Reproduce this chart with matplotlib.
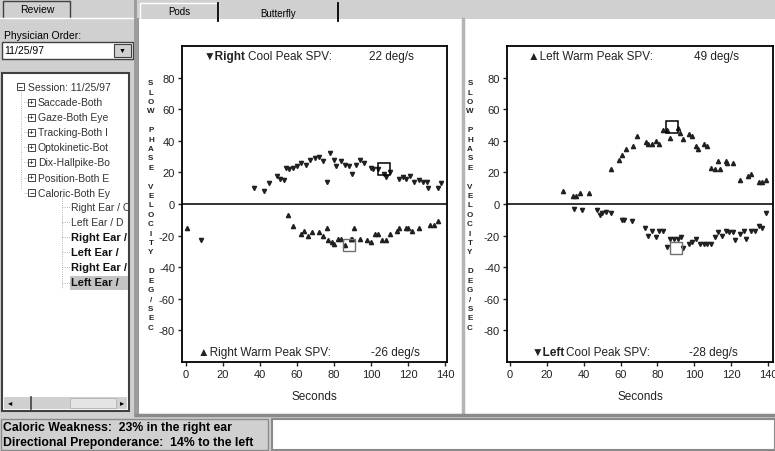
import matplotlib
matplotlib.use("Agg")
import matplotlib.pyplot as plt
from matplotlib.patches import Rectangle

plt.rcParams['font.family'] = ['Liberation Sans', 'DejaVu Sans']
plt.rcParams['axes.unicode_minus'] = False

W, H = 775, 452

# ---- data ----
# Right ear panel (left chart)
right_cool_t = [8, 37, 42, 45, 49, 51, 53, 54, 56, 58, 60, 62, 65, 67, 70, 72, 74, 76, 78, 80, 81, 84, 86,
                88, 90, 92, 94, 96, 100, 101, 104, 107, 108, 110, 115, 117, 119, 121, 123, 126, 128, 130,
                131, 136, 138]
right_cool_v = [-23, 10, 8, 13, 18, 16, 15, 23, 22, 23, 24, 26, 25, 28, 29, 30, 27, 14, 32, 28, 24, 27, 25,
                24, 19, 25, 28, 26, 23, 22, 22, 19, 17, 20, 16, 17, 16, 18, 14, 15, 14, 14,
                10, 10, 13]
right_warm_t = [0.5, 55, 58, 62, 64, 66, 68, 72, 74, 76, 77, 79, 80, 82, 84, 86, 89, 90, 91, 94, 98, 100,
                102, 104, 106, 108, 110, 114, 115, 119, 120, 122, 126, 132, 134, 136]
right_warm_v = [-15, -7, -14, -19, -17, -20, -18, -18, -20, -15, -23, -24, -25, -22, -22, -26, -22, -22, -15,
                -22, -23, -24, -19, -19, -23, -23, -19, -17, -15, -15, -15, -17, -15, -13, -13, -11]
right_peaks_t = [107, 88]
right_peaks_v = [22, -26]

# Left ear panel (right chart)
left_warm_t = [29, 34, 36, 38, 43, 55, 59, 61, 63, 67, 69, 74, 75, 77, 79, 81, 83, 85, 87, 91, 92, 94, 97,
               99, 101, 102, 105, 107, 109, 111, 113, 114, 117, 118, 121, 125, 129, 131, 135, 137, 139]
left_warm_v = [8, 5, 5, 7, 7, 22, 28, 31, 35, 37, 43, 39, 38, 38, 40, 38, 47, 47, 42, 48, 45, 41, 44,
               43, 37, 35, 38, 37, 23, 22, 27, 22, 27, 26, 26, 15, 18, 19, 14, 14, 15]
left_cool_t = [35, 39, 47, 49, 50, 52, 55, 61, 62, 66, 73, 75, 77, 79, 81, 83, 85, 87, 89, 91, 93, 94, 97,
               99, 101, 103, 105, 107, 109, 111, 113, 115, 117, 119, 121, 122, 125, 127, 128, 131, 133, 135,
               137, 139]
left_cool_v = [-3, -4, -4, -7, -6, -5, -6, -10, -10, -11, -15, -20, -17, -21, -17, -17, -27, -22, -22, -22,
               -21, -28, -25, -24, -22, -25, -25, -25, -25, -21, -18, -20, -17, -18, -18, -23, -19, -17,
               -22, -17, -17, -14, -15, -6]
left_peaks_t = [88, 90]
left_peaks_v = [49, -28]

y_ticks = [-80, -60, -40, -20, 0, 20, 40, 60, 80]
x_ticks = [0, 20, 40, 60, 80, 100, 120, 140]
ylabel_text = "SLOW PHASE VELOCITY DEG/SEC"

tree_items = ["Saccade-Both", "Gaze-Both Eye", "Tracking-Both I", "Optokinetic-Bot",
              "Dix-Hallpike-Bo", "Position-Both E", "Caloric-Both Ey"]
sub_items = ["Right Ear / C", "Left Ear / D", "Right Ear /", "Left Ear /", "Right Ear /", "Left Ear /"]
sub_bold = [False, False, True, True, True, True]

GRAY = '#d0d0d0'
DARK = '#404040'


def box(x0, y0, x1, y1):
    return [x0 / W, 1 - y1 / H, (x1 - x0) / W, (y1 - y0) / H]


fig = plt.figure(figsize=(W / 100, H / 100), dpi=100, facecolor=GRAY)

# ---- window chrome in pixel coordinates ----
bg = fig.add_axes([0, 0, 1, 1], zorder=0)
bg.set_xlim(0, W)
bg.set_ylim(H, 0)
bg.axis('off')

def rect(x0, y0, x1, y1, fc, ec='none', lw=1.0):
    bg.add_patch(Rectangle((x0, y0), x1 - x0, y1 - y0, facecolor=fc, edgecolor=ec, lw=lw))

# left pane
bg.plot([3, 3, 70, 70], [19, 2, 2, 19], color=DARK, lw=1)
bg.text(37, 10, "Review", ha='center', va='center', fontsize=7.5)
bg.plot([0, 135], [19, 19], color='white', lw=1)
bg.text(4, 36, "Physician Order:", ha='left', va='center', fontsize=7.5)
rect(2, 43, 133, 60, 'white', DARK)
bg.text(4, 51.5, "11/25/97", ha='left', va='center', fontsize=7.5)
rect(114, 45, 131, 58, GRAY, DARK, 0.8)
bg.text(122.5, 51.5, "▼", ha='center', va='center', fontsize=5)
rect(2, 74, 129, 412, 'white', DARK, 1.5)
rect(4, 398, 127, 410, GRAY)
rect(70, 399, 116, 409, '#e4e4e4', '#a8a8a8', 0.5)
bg.plot([31, 31], [398, 410], color=DARK, lw=1.2)
bg.text(10, 404, "◂", ha='center', va='center', fontsize=6)
bg.text(122, 404, "▸", ha='center', va='center', fontsize=6)
bg.plot([135, 135], [0, 416], color='#9a9a9a', lw=2)

# tree, clipped to its box
tree = fig.add_axes(box(3, 75, 128, 397), zorder=1)
tree.set_xlim(3, 128)
tree.set_ylim(397, 75)
tree.axis('off')
tree.text(28, 88, "Session: 11/25/97", fontsize=7.5, va='center', clip_on=True, color='#333333')
tree.add_patch(Rectangle((17, 84), 7, 7, fc='white', ec=DARK, lw=0.7))
tree.text(20.5, 87.5, "−", fontsize=6, ha='center', va='center')
for i, name in enumerate(tree_items):
    yy = 103 + 15.1 * i
    tree.add_patch(Rectangle((28, yy - 3.5), 7, 7, fc='white', ec=DARK, lw=0.7))
    tree.text(31.5, yy, "−" if i == len(tree_items) - 1 else "+", fontsize=6, ha='center', va='center')
    tree.plot([24, 28], [yy, yy], color='#999999', lw=0.6, ls=':')
    tree.text(38, yy, name, fontsize=7.5, va='center', clip_on=True, color='#333333')
tree.plot([20.5, 20.5], [91, 190], color='#999999', lw=0.6, ls=':')
for i, name in enumerate(sub_items):
    yy = 208 + 15.1 * i
    tree.plot([62, 70], [yy, yy], color='#999999', lw=0.6, ls=':')
    if i == len(sub_items) - 1:
        tree.add_patch(Rectangle((70, yy - 7), 60, 14, fc='#c4c4c4', ec='none'))
    tree.text(71, yy, name, fontsize=8 if sub_bold[i] else 7.5, va='center', clip_on=True,
              fontweight='bold' if sub_bold[i] else 'normal', color='#111111' if sub_bold[i] else '#333333')
tree.plot([62, 62], [197, 290], color='#999999', lw=0.6, ls=':')

# right pane with tabs
rect(138, 20, W, 415, 'white')
bg.plot([138, 138], [20, 415], color='#9a9a9a', lw=1.5)
bg.plot([140, 140, 218, 218], [20, 4, 4, 20], color='white', lw=1)
bg.plot([218, 218], [4, 22], color='black', lw=1.3)
bg.plot([338, 338], [4, 22], color='black', lw=1.3)
bg.text(179, 12, "Pods", ha='center', va='center', fontsize=7)
bg.text(278, 14, "Butterfly", ha='center', va='center', fontsize=7)
bg.plot([463, 463], [20, 415], color='#b4b4b4', lw=2.5)
bg.plot([136, W], [416, 416], color='#8a8a8a', lw=2.5)

# status bar
rect(1, 420, 268, 451, GRAY, '#8a8a8a', 1)
bg.text(3, 428, "Caloric Weakness:  23% in the right ear", fontsize=8.8, fontweight='bold', va='center')
bg.text(3, 443, "Directional Preponderance:  14% to the left", fontsize=8.8, fontweight='bold', va='center')
rect(272, 420, W, 451, 'white', '#8a8a8a', 1.5)


# ---- the two SPV charts ----
def spv_chart(pos, xlim, up_t, up_v, up_m, dn_t, dn_v, dn_m, pk_t, pk_v, top_parts, bottom_parts, ylab_x):
    ax = fig.add_axes(pos, zorder=2)
    ax.set_xlim(*xlim)
    ax.set_ylim(-100, 100)
    ax.axhline(0, color='#222222', lw=1.3)
    ax.plot(up_t, up_v, ls='none', marker=up_m, ms=3, color='#202020')
    ax.plot(dn_t, dn_v, ls='none', marker=dn_m, ms=3, color='#202020')
    ax.plot(pk_t[:1], pk_v[:1], ls='none', marker='s', ms=9, mfc='none', mec='black', mew=1.1)
    ax.plot(pk_t[1:], pk_v[1:], ls='none', marker='s', ms=9, mfc='none', mec='#707070', mew=1.0)
    ax.set_xticks(x_ticks)
    ax.set_yticks(y_ticks)
    ax.tick_params(direction='out', length=3, width=1, pad=2, labelsize=8, colors='#222222')
    for s in ax.spines.values():
        s.set_linewidth(1.3)
    ax.set_xlabel("Seconds", fontsize=8.5, labelpad=8, color='#222222')
    for parts, yy in ((top_parts, 93.5), (bottom_parts, -93.5)):
        for xx, txt, bold in parts:
            ax.text(xx, yy, txt, ha='left', va='center', fontsize=8.5,
                    fontweight='bold' if bold else 'normal', color='#222222')
    fig.text(ylab_x / W, 1 - 206 / H, "\n".join(ylabel_text), ha='center', va='center',
             fontsize=5.8, fontweight='bold', linespacing=1.48, color='#222222')
    return ax


ax1 = spv_chart(box(182, 47, 447, 363), (-2, 141),
                right_warm_t, right_warm_v, '^', right_cool_t, right_cool_v, 'v',
                right_peaks_t, right_peaks_v,
                [(9.5, "▼Right", True), (33.5, "Cool Peak SPV:", False), (99, "22 deg/s", False)],
                [(6.5, "▲Right Warm Peak SPV:", False), (100, "-26 deg/s", False)],
                151)
ax2 = spv_chart(box(507, 47, 773, 363), (-1.6, 142.7),
                left_warm_t, left_warm_v, '^', left_cool_t, left_cool_v, 'v',
                left_peaks_t, left_peaks_v,
                [(10, "▲Left Warm Peak SPV:", False), (100, "49 deg/s", False)],
                [(12, "▼Left", True), (30.5, "Cool Peak SPV:", False), (97, "-28 deg/s", False)],
                470)

fig.savefig("out.png", dpi=100, facecolor=fig.get_facecolor())
